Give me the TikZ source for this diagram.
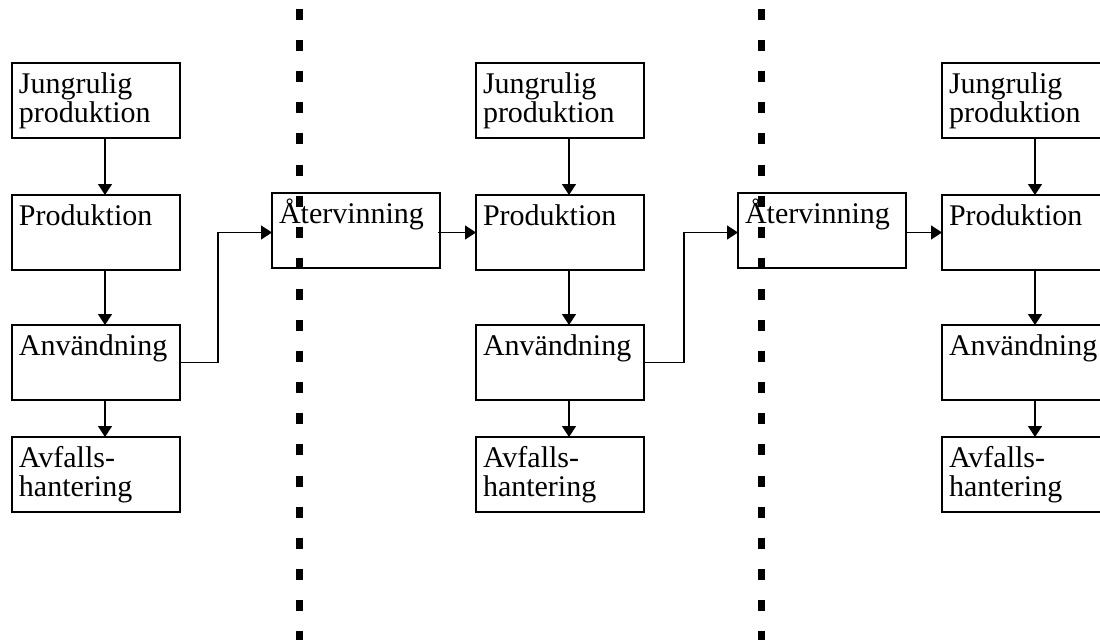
\documentclass[tikz,border=0pt]{standalone}
\usepackage{fontspec}
\setmainfont{Liberation Serif}
\usetikzlibrary{arrows.meta}
\tikzset{
  stage/.style={draw, line width=1.4pt, anchor=north west, text width=154pt, align=left,
    inner xsep=7pt, inner ysep=0pt, outer sep=0pt, text height=30pt, text depth=45pt,
    font=\fontsize{30}{29}\selectfont},
  flow/.style={line width=1.4pt, -{Triangle[width=14pt,length=11pt]}},
  divider/.style={line width=7pt, dash pattern=on 11pt off 20.1pt}
}
\begin{document}
\begin{tikzpicture}[x=1pt,y=-1pt]
\useasboundingbox (0,0) rectangle (1100,640);
\clip (0,0) rectangle (1100,640);
\node[stage] (j1) at (12,63) {Jungrulig\\produktion};
\node[stage] (p1) at (12,195) {Produktion};
\node[stage] (a1) at (12,325) {Användning};
\node[stage] (w1) at (12,437) {Avfalls-\\hantering};
\node[stage] (r1) at (272,193) {Återvinning};
\node[stage] (j2) at (476,63) {Jungrulig\\produktion};
\node[stage] (p2) at (476,195) {Produktion};
\node[stage] (a2) at (476,325) {Användning};
\node[stage] (w2) at (476,437) {Avfalls-\\hantering};
\node[stage] (r2) at (738,193) {Återvinning};
\node[stage] (j3) at (942,63) {Jungrulig\\produktion};
\node[stage] (p3) at (942,195) {Produktion};
\node[stage] (a3) at (942,325) {Användning};
\node[stage] (w3) at (942,437) {Avfalls-\\hantering};
\foreach \c in {1,2,3} {
  \draw[flow] ([xshift=9pt]j\c.south) -- ([xshift=9pt]p\c.north);
  \draw[flow] ([xshift=9pt]p\c.south) -- ([xshift=9pt]a\c.north);
  \draw[flow] ([xshift=9pt]a\c.south) -- ([xshift=9pt]w\c.north);
}
\draw[flow] (a1.east) -- ++(38,0) |- ([yshift=-2pt]r1.west);
\draw[flow] (a2.east) -- ++(40,0) |- ([yshift=-2pt]r2.west);
\draw[flow] ([xshift=-2pt]r1.east |- p2.west) -- (p2.west);
\draw[flow] (r2.east |- p3.west) -- (p3.west);
\draw[divider] (299.5,9) -- (299.5,640);
\draw[divider] (761.5,9) -- (761.5,640);
\end{tikzpicture}
\end{document}
